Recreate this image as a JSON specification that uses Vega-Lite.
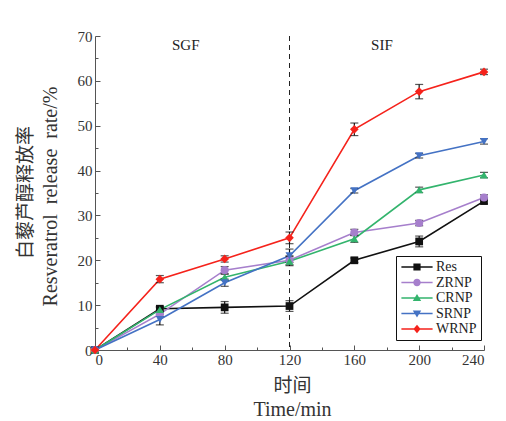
{
  "$schema": "https://vega.github.io/schema/vega-lite/v6.json",
  "width": 389,
  "height": 314,
  "autosize": {"type": "none"},
  "padding": {"left": 95, "top": 36, "right": 22, "bottom": 71},
  "background": "white",
  "config": {
    "view": {"stroke": null},
    "font": "Liberation Serif",
    "axis": {
      "grid": false,
      "domainColor": "#555",
      "tickColor": "#555",
      "labelColor": "#333",
      "labelFont": "Liberation Serif",
      "labelFontSize": 15,
      "titleFont": "Liberation Serif",
      "titleFontWeight": "normal",
      "titleColor": "#333",
      "titleFontSize": 20
    }
  },
  "datasets": {
    "rel": [
      {"s": "Res", "t": 0, "v": 0, "e": 0},
      {"s": "Res", "t": 40, "v": 9.2, "e": 0.5},
      {"s": "Res", "t": 80, "v": 9.5, "e": 1.3},
      {"s": "Res", "t": 120, "v": 9.8, "e": 1.2},
      {"s": "Res", "t": 160, "v": 20.0, "e": 0.5},
      {"s": "Res", "t": 200, "v": 24.2, "e": 1.2},
      {"s": "Res", "t": 240, "v": 33.2, "e": 0.6},
      {"s": "ZRNP", "t": 0, "v": 0, "e": 0},
      {"s": "ZRNP", "t": 40, "v": 8.0, "e": 0.5},
      {"s": "ZRNP", "t": 80, "v": 17.8, "e": 0.8},
      {"s": "ZRNP", "t": 120, "v": 20.0, "e": 1.0},
      {"s": "ZRNP", "t": 160, "v": 26.2, "e": 0.7},
      {"s": "ZRNP", "t": 200, "v": 28.3, "e": 0.6},
      {"s": "ZRNP", "t": 240, "v": 34.0, "e": 0.6},
      {"s": "CRNP", "t": 0, "v": 0, "e": 0},
      {"s": "CRNP", "t": 40, "v": 9.0, "e": 0.5},
      {"s": "CRNP", "t": 80, "v": 16.2, "e": 0.7},
      {"s": "CRNP", "t": 120, "v": 19.8, "e": 1.0},
      {"s": "CRNP", "t": 160, "v": 24.8, "e": 0.8},
      {"s": "CRNP", "t": 200, "v": 35.7, "e": 0.6},
      {"s": "CRNP", "t": 240, "v": 39.0, "e": 0.6},
      {"s": "SRNP", "t": 0, "v": 0, "e": 0},
      {"s": "SRNP", "t": 40, "v": 6.8, "e": 1.2},
      {"s": "SRNP", "t": 80, "v": 15.0, "e": 0.8},
      {"s": "SRNP", "t": 120, "v": 21.0, "e": 1.5},
      {"s": "SRNP", "t": 160, "v": 35.5, "e": 0.5},
      {"s": "SRNP", "t": 200, "v": 43.3, "e": 0.5},
      {"s": "SRNP", "t": 240, "v": 46.5, "e": 0.6},
      {"s": "WRNP", "t": 0, "v": 0, "e": 0},
      {"s": "WRNP", "t": 40, "v": 15.8, "e": 0.8},
      {"s": "WRNP", "t": 80, "v": 20.3, "e": 0.7},
      {"s": "WRNP", "t": 120, "v": 25.0, "e": 1.3},
      {"s": "WRNP", "t": 160, "v": 49.2, "e": 1.4},
      {"s": "WRNP", "t": 200, "v": 57.6, "e": 1.6},
      {"s": "WRNP", "t": 240, "v": 62.0, "e": 0.6}
    ]
  },
  "layer": [
    {
      "data": {"values": [{"t": 120}]},
      "mark": {"type": "rule", "color": "#222", "strokeDash": [5, 4], "strokeWidth": 1},
      "encoding": {
        "x": {
          "field": "t", "type": "quantitative",
          "scale": {"domain": [0, 240]},
          "axis": {
            "orient": "bottom", "values": [20, 60, 100, 140, 180, 220],
            "labels": false, "domain": false, "tickSize": -3,
            "title": "时间", "titleX": 197, "titleY": 35, "titleBaseline": "middle",
            "titleFont": "Noto Sans CJK SC", "titleFontSize": 19
          }
        }
      }
    },
    {
      "data": {"name": "rel"},
      "transform": [{"filter": "datum.s === 'Res'"}],
      "mark": {"type": "line", "strokeWidth": 1.6, "color": "#111111"},
      "encoding": {
        "x": {
          "field": "t", "type": "quantitative",
          "scale": {"domain": [0, 240]},
          "axis": {
            "orient": "bottom", "values": [0, 40, 80, 120, 160, 200, 240],
            "tickSize": -5, "labelPadding": 7,
            "title": "Time/min", "titleX": 197, "titleY": 59, "titleBaseline": "middle"
          }
        },
        "y": {
          "field": "v", "type": "quantitative",
          "scale": {"domain": [0, 70]},
          "axis": {
            "orient": "left", "values": [0, 10, 20, 30, 40, 50, 60, 70],
            "tickSize": -5, "labelPadding": 8,
            "title": "Resveratrol\u00a0\u00a0release\u00a0\u00a0rate/%", "titleX": -45, "titleY": 160,
            "titleAngle": -90, "titleBaseline": "middle", "titleAlign": "center"
          }
        }
      }
    },
    {
      "data": {"name": "rel"},
      "transform": [{"filter": "datum.s === 'ZRNP'"}],
      "mark": {"type": "line", "strokeWidth": 1.6, "color": "#a67fcc"},
      "encoding": {
        "x": {"field": "t", "type": "quantitative", "axis": null},
        "y": {"field": "v", "type": "quantitative", "axis": null}
      }
    },
    {
      "data": {"name": "rel"},
      "transform": [{"filter": "datum.s === 'CRNP'"}],
      "mark": {"type": "line", "strokeWidth": 1.6, "color": "#33b46d"},
      "encoding": {
        "x": {"field": "t", "type": "quantitative", "axis": null},
        "y": {"field": "v", "type": "quantitative", "axis": null}
      }
    },
    {
      "data": {"name": "rel"},
      "transform": [{"filter": "datum.s === 'SRNP'"}],
      "mark": {"type": "line", "strokeWidth": 1.6, "color": "#4472c4"},
      "encoding": {
        "x": {"field": "t", "type": "quantitative", "axis": null},
        "y": {"field": "v", "type": "quantitative", "axis": null}
      }
    },
    {
      "data": {"name": "rel"},
      "transform": [{"filter": "datum.s === 'WRNP'"}],
      "mark": {"type": "line", "strokeWidth": 1.6, "color": "#f5221b"},
      "encoding": {
        "x": {"field": "t", "type": "quantitative", "axis": null},
        "y": {"field": "v", "type": "quantitative", "axis": null}
      }
    },
    {
      "data": {"name": "rel"},
      "mark": {"type": "errorbar", "color": "#111", "thickness": 1.2, "ticks": {"size": 8, "thickness": 1.2, "color": "#111"}},
      "encoding": {
        "x": {"field": "t", "type": "quantitative", "axis": null},
        "y": {"field": "v", "type": "quantitative", "axis": null},
        "yError": {"field": "e"}
      }
    },
    {
      "data": {"name": "rel"},
      "transform": [{"filter": "datum.s === 'Res'"}],
      "mark": {"type": "point", "filled": true, "size": 60, "opacity": 1, "shape": "square", "color": "#111111"},
      "encoding": {
        "x": {"field": "t", "type": "quantitative", "axis": null},
        "y": {"field": "v", "type": "quantitative", "axis": null}
      }
    },
    {
      "data": {"name": "rel"},
      "transform": [{"filter": "datum.s === 'ZRNP'"}],
      "mark": {"type": "point", "filled": true, "size": 65, "opacity": 1, "shape": "circle", "color": "#a67fcc"},
      "encoding": {
        "x": {"field": "t", "type": "quantitative", "axis": null},
        "y": {"field": "v", "type": "quantitative", "axis": null}
      }
    },
    {
      "data": {"name": "rel"},
      "transform": [{"filter": "datum.s === 'CRNP'"}],
      "mark": {"type": "point", "filled": true, "size": 65, "opacity": 1, "shape": "triangle-up", "color": "#33b46d"},
      "encoding": {
        "x": {"field": "t", "type": "quantitative", "axis": null},
        "y": {"field": "v", "type": "quantitative", "axis": null}
      }
    },
    {
      "data": {"name": "rel"},
      "transform": [{"filter": "datum.s === 'SRNP'"}],
      "mark": {"type": "point", "filled": true, "size": 65, "opacity": 1, "shape": "triangle-down", "color": "#4472c4"},
      "encoding": {
        "x": {"field": "t", "type": "quantitative", "axis": null},
        "y": {"field": "v", "type": "quantitative", "axis": null}
      }
    },
    {
      "data": {"name": "rel"},
      "transform": [{"filter": "datum.s === 'WRNP'"}],
      "mark": {"type": "point", "filled": true, "size": 75, "opacity": 1, "shape": "diamond", "color": "#f5221b"},
      "encoding": {
        "x": {"field": "t", "type": "quantitative", "axis": null},
        "y": {"field": "v", "type": "quantitative", "axis": null}
      }
    },
    {
      "data": {"name": "rel"},
      "transform": [{"filter": "datum.t < 0"}],
      "mark": {"type": "point", "filled": true, "opacity": 1},
      "encoding": {
        "x": {"field": "t", "type": "quantitative", "axis": null},
        "y": {"field": "v", "type": "quantitative", "axis": null},
        "color": {
          "field": "s", "type": "nominal",
          "scale": {"domain": ["Res", "ZRNP", "CRNP", "SRNP", "WRNP"], "range": ["#111111", "#a67fcc", "#33b46d", "#4472c4", "#f5221b"]}
        },
        "shape": {
          "field": "s", "type": "nominal",
          "scale": {
            "domain": ["Res", "ZRNP", "CRNP", "SRNP", "WRNP"],
            "range": [
              "M-2.6,-0.12H2.6V0.12H-2.6ZM-0.6,-0.6H0.6V0.6H-0.6Z",
              "M-2.6,-0.12H2.6V0.12H-2.6ZM0.62,0A0.62,0.62 0 1,1 -0.62,0A0.62,0.62 0 1,1 0.62,0Z",
              "M-2.6,-0.12H2.6V0.12H-2.6ZM0,-0.65L0.7,0.5H-0.7Z",
              "M-2.6,-0.12H2.6V0.12H-2.6ZM0,0.65L-0.7,-0.5H0.7Z",
              "M-2.6,-0.12H2.6V0.12H-2.6ZM0,-0.72L0.6,0L0,0.72L-0.6,0Z"
            ]
          },
          "legend": {
            "title": null,
            "orient": "none",
            "legendX": 301,
            "legendY": 220,
            "padding": 4,
            "strokeColor": "#111",
            "fillColor": "white",
            "symbolSize": 144,
            "symbolOffset": 10,
            "symbolStrokeWidth": 0,
            "symbolOpacity": 1,
            "labelOffset": 12,
            "labelFont": "Liberation Serif",
            "labelFontSize": 14,
            "labelColor": "#222",
            "rowPadding": 1.5
          }
        }
      }
    },
    {
      "data": {"values": [{"label": "SGF", "t": 56, "y": 68}, {"label": "SIF", "t": 177, "y": 68}]},
      "mark": {"type": "text", "font": "Liberation Serif", "fontSize": 15, "color": "#222"},
      "encoding": {
        "x": {"field": "t", "type": "quantitative", "axis": null},
        "y": {
          "field": "y", "type": "quantitative",
          "axis": {
            "orient": "left", "values": [5, 15, 25, 35, 45, 55, 65],
            "labels": false, "domain": false, "tickSize": -3,
            "title": "白藜芦醇释放率", "titleX": -70, "titleY": 156,
            "titleAngle": -90, "titleBaseline": "middle", "titleAlign": "center",
            "titleFont": "Noto Sans CJK SC", "titleFontSize": 19
          }
        },
        "text": {"field": "label"}
      }
    }
  ],
  "resolve": {
    "axis": {"x": "independent", "y": "independent"}
  }
}
